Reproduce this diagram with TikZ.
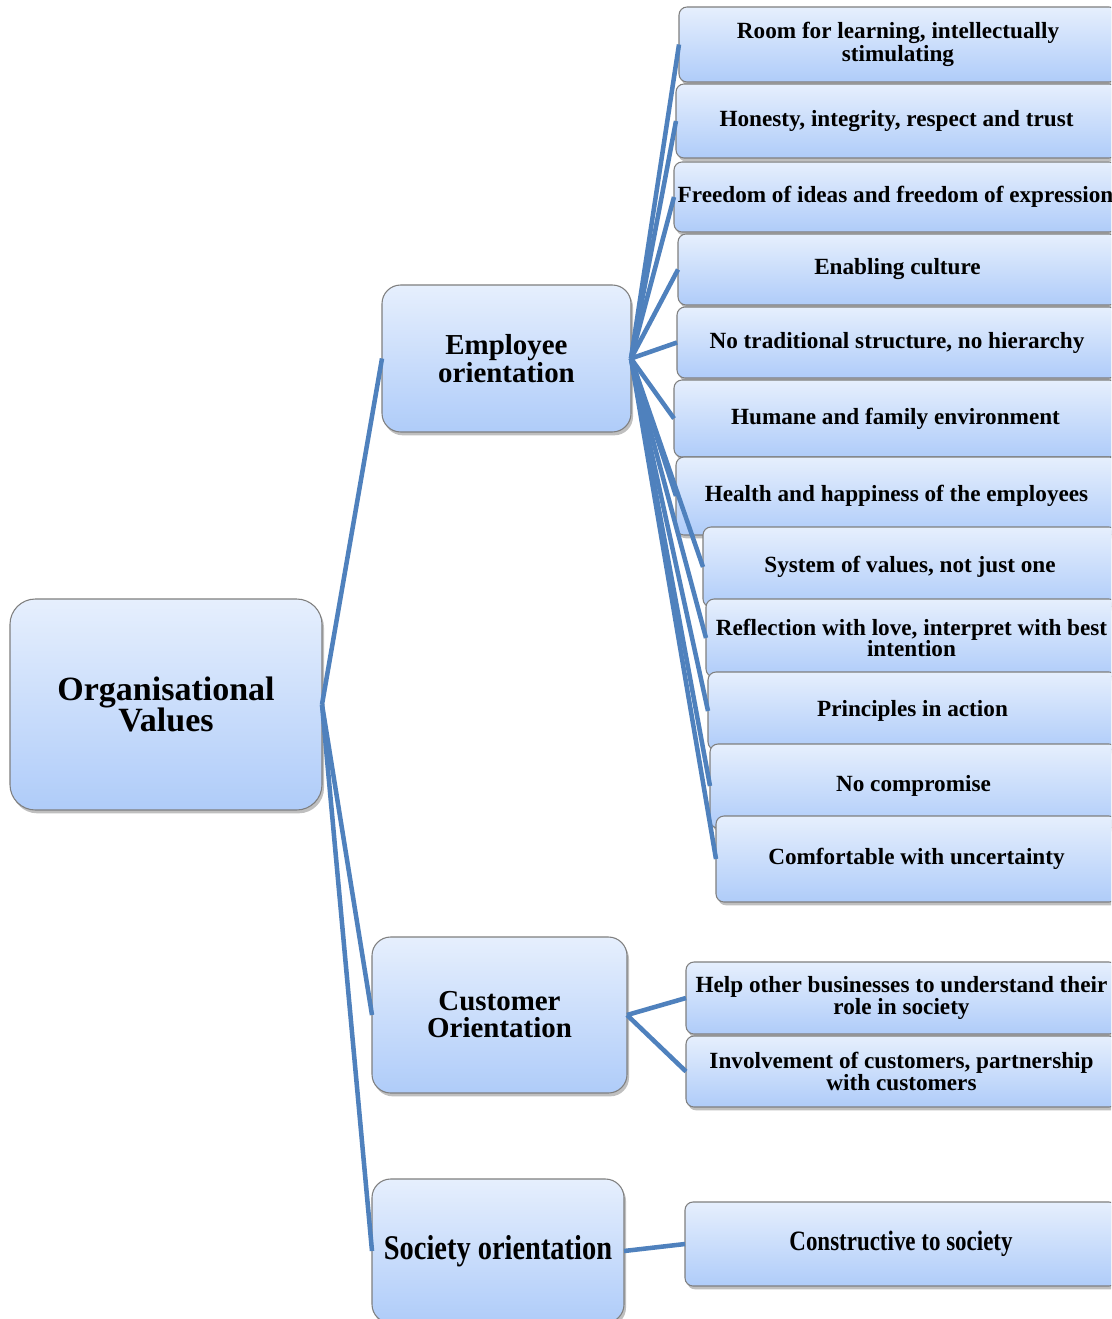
\documentclass[tikz,border=0pt]{standalone}
\usepackage{fontspec}
\setmainfont{Liberation Serif}
\newfontfamily\condfont[FakeStretch=0.82]{Liberation Serif}
\usetikzlibrary{shadows}
\definecolor{boxtop}{HTML}{E6EFFD}
\definecolor{boxbot}{HTML}{AFCCF9}
\definecolor{boxline}{HTML}{7F7F7F}
\definecolor{conn}{HTML}{4F81BD}
% #1 style, #2 name, #3 x1, #4 y1, #5 x2, #6 y2, #7 text
\newcommand\mkbox[7]{%
  \node[#1, minimum width={(#5-#3)*0.75pt}, minimum height={(#6-#4)*0.75pt}]
    (#2) at ({(#3+#5)/2},{(#4+#6)/2}) {#7};}
\begin{document}
\begin{tikzpicture}[x=0.75pt,y=-0.75pt,
  basebox/.style={draw=boxline, line width=0.8pt, top color=boxtop, bottom color=boxbot,
    inner sep=0pt, outer sep=0pt, align=center, text=black,
    drop shadow={shadow xshift=1.5pt, shadow yshift=-2.5pt, opacity=0.25, fill=black}},
  rootbox/.style={basebox, rounded corners=19pt, font=\bfseries\fontsize{25.5}{23.5}\selectfont},
  midbox/.style={basebox, rounded corners=14pt, font=\bfseries\fontsize{21.7}{20.3}\selectfont},
  leafbox/.style={basebox, rounded corners=6pt, font=\bfseries\fontsize{17.4}{15.9}\selectfont},
  link/.style={draw=conn, line width=3.4pt}]
\fill[white] (0,0) rectangle (1111,1319);
\useasboundingbox (0,0) rectangle (1111,1319);
\clip (0,0) rectangle (1111,1319);

% level 0 and 1
\mkbox{rootbox}{root}{10}{599}{322}{810}{Organisational\\Values}
\mkbox{midbox, font=\bfseries\fontsize{21.7}{19}\selectfont}{emp}{382}{285}{631}{432}{Employee\\orientation}
\mkbox{midbox}{cust}{372}{937}{627}{1093}{Customer\\Orientation}
\mkbox{midbox, font=\condfont\bfseries\fontsize{26}{25}\selectfont}{soc}{372}{1179}{624}{1323}{Society orientation}

% employee children
\mkbox{leafbox}{e1}{679}{7}{1117}{82}{Room for learning, intellectually\\stimulating}
\mkbox{leafbox}{e2}{676}{84}{1117}{158}{Honesty, integrity, respect and trust}
\mkbox{leafbox}{e3}{674}{162}{1117}{232}{Freedom of ideas and freedom of expression}
\mkbox{leafbox}{e4}{678}{234}{1117}{305}{Enabling culture}
\mkbox{leafbox}{e5}{677}{307}{1117}{378}{No traditional structure, no hierarchy}
\mkbox{leafbox}{e6}{674}{380}{1117}{457}{Humane and family environment}
\mkbox{leafbox}{e7}{676}{457}{1117}{535}{Health and happiness of the employees}
\mkbox{leafbox}{e8}{703}{527}{1117}{607}{System of values, not just one}
\mkbox{leafbox}{e9}{706}{599}{1117}{677}{Reflection with love, interpret with best\\intention}
\mkbox{leafbox}{e10}{708}{672}{1117}{750}{Principles in action}
\mkbox{leafbox}{e11}{710}{744}{1117}{828}{No compromise}
\mkbox{leafbox}{e12}{716}{816}{1117}{902}{Comfortable with uncertainty}

% customer children
\mkbox{leafbox}{c1}{686}{962}{1117}{1034}{Help other businesses to understand their\\role in society}
\mkbox{leafbox}{c2}{686}{1036}{1117}{1107}{Involvement of customers, partnership\\with customers}

% society child
\mkbox{leafbox, font=\condfont\bfseries\fontsize{21}{21}\selectfont}{s1}{685}{1202}{1117}{1286}{Constructive to society}

% connectors
\draw[link] (root.east) -- (emp.west);
\draw[link] (root.east) -- (cust.west);
\draw[link] (root.east) -- (soc.west);
\foreach \k in {1,...,12} {\draw[link] (emp.east) -- (e\k.west);}
\draw[link] (cust.east) -- (c1.west);
\draw[link] (cust.east) -- (c2.west);
\draw[link] (soc.east) -- (s1.west);
\end{tikzpicture}
\end{document}
